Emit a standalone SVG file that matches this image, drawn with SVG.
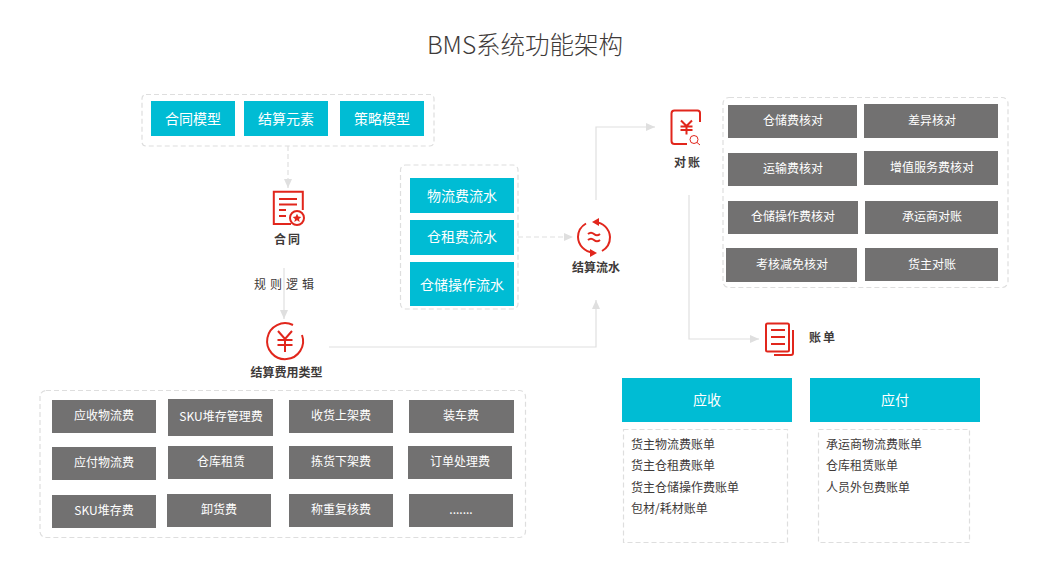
<svg xmlns="http://www.w3.org/2000/svg" width="1050" height="573" viewBox="0 0 1050 573">
<style>
text{font-family:"Noto Sans CJK SC","Liberation Sans",sans-serif;text-anchor:middle}
.dash{fill:#fff;stroke:#dedede;stroke-width:1.2;stroke-dasharray:5 3}
.blue{fill:#00bcd4}
.gray{fill:#727171}
.tb{fill:#fff;font-size:14px}
.tg{fill:#fff;font-size:12px}
.tl{fill:#3e3a39;font-size:12px;text-anchor:start}
.tn{fill:#3e3a39;font-size:12px;font-weight:700}
.con{fill:none;stroke:#dfdfdf;stroke-width:1.2}
.cd{fill:none;stroke:#dfdfdf;stroke-width:1.2;stroke-dasharray:5 3}
.ic{fill:none;stroke:#e1261c;stroke-width:2}
</style>
<defs>
<marker id="ah" viewBox="0 0 9 8" refX="9" refY="4" markerWidth="9" markerHeight="8" markerUnits="userSpaceOnUse" orient="auto"><path d="M0 0L9 4L0 8Z" fill="#dfdfdf"/></marker>
</defs>
<rect width="1050" height="573" fill="#fff"/>
<text id="title" x="525" y="54" font-size="24.500" fill="#3e3a39" font-weight="300">BMS系统功能架构</text>

<g id="connectors">
<path class="cd" d="M288 146V188" marker-end="url(#ah)"/>
<path class="con" d="M284 268V319" marker-end="url(#ah)"/>
<path class="con" d="M329 347H596V300" marker-end="url(#ah)"/>
<path class="cd" d="M518 237H573" marker-end="url(#ah)"/>
<path class="con" d="M596 200V127H655" marker-end="url(#ah)"/>
<path class="con" d="M689 195V339H759" marker-end="url(#ah)"/>
</g>

<g id="models">
<rect class="dash" x="142" y="94.500" width="292" height="51.500" rx="4"/>
<rect class="blue" x="151" y="101" width="84" height="35"/><text class="tb" x="193" y="124">合同模型</text>
<rect class="blue" x="244" y="101" width="84" height="35"/><text class="tb" x="286" y="124">结算元素</text>
<rect class="blue" x="340" y="101" width="84" height="35"/><text class="tb" x="382" y="124">策略模型</text>
</g>

<g id="contract">
<path class="ic" d="M291 224H273.800V191.800H302.800V210"/>
<path class="ic" d="M279 199H297M279 204.500H297M279 210H286M279 216H286"/>
<circle class="ic" cx="297" cy="218" r="7"/>
<path d="M297 213.800l1.300 2.800 3 .3-2.300 2 .7 3-2.700-1.600-2.700 1.600.7-3-2.300-2 3-.3z" fill="#e1261c"/>
<text class="tn" x="288" y="244" letter-spacing="2">合同</text>
</g>

<text id="rule" x="286" y="289" font-size="12" fill="#3e3a39" letter-spacing="4">规则逻辑</text>

<g id="fee-type">
<path class="ic" d="M293 325A18 18 0 1 0 302 335"/>
<path class="ic" d="M278 331L285 339L292 331M285 339V352M277.500 340H292.500M277.500 345H292.500"/>
<text class="tn" x="286.500" y="377">结算费用类型</text>
</g>

<g id="flows">
<rect class="dash" x="400.500" y="165" width="117.500" height="144" rx="5"/>
<rect class="blue" x="410" y="178" width="104" height="35"/><text class="tb" x="462" y="201">物流费流水</text>
<rect class="blue" x="410" y="220" width="104" height="35"/><text class="tb" x="462" y="242">仓租费流水</text>
<rect class="blue" x="410" y="262" width="104" height="44"/><text class="tb" x="462" y="290">仓储操作流水</text>
</g>

<g id="settle-flow">
<path class="ic" d="M595 222A16 16 0 0 1 610 237A16 16 0 0 1 602 251"/>
<path class="ic" d="M593 252.500A16 16 0 0 1 578 237A16 16 0 0 1 586 223.500"/>
<path d="M592 222L599 218V226Z" fill="#e1261c"/>
<path d="M597 253L590 249V257Z" fill="#e1261c"/>
<path class="ic" d="M588 234q3 -2.500 6 0t6 0M588 240q3 -2.500 6 0t6 0"/>
<text class="tn" x="596" y="272">结算流水</text>
</g>

<g id="reconcile">
<path class="ic" d="M700 122V113Q700 110.500 697.500 110.500H674.500Q671.500 110.500 671.500 113.500V141Q671.500 144 674.500 144H687"/>
<path class="ic" d="M681 120.500L686.500 126L692 120.500M686.500 126V134.500M680.500 126.500H692.500M680.500 130H692.500"/>
<circle cx="694" cy="139.500" r="4" fill="none" stroke="#e1261c" stroke-width="1"/>
<path d="M697 142.500L700 145" stroke="#e1261c" stroke-width="1"/>
<text class="tn" x="688" y="167" letter-spacing="2">对账</text>
</g>

<g id="checks">
<rect class="dash" x="723" y="97.500" width="285" height="190" rx="6"/>
<rect class="gray" x="728" y="105" width="129" height="33"/><text class="tg" x="793" y="125">仓储费核对</text>
<rect class="gray" x="864" y="104" width="134" height="34"/><text class="tg" x="932" y="125">差异核对</text>
<rect class="gray" x="728" y="153" width="129" height="33"/><text class="tg" x="793" y="173">运输费核对</text>
<rect class="gray" x="864" y="151" width="134" height="34"/><text class="tg" x="932" y="172">增值服务费核对</text>
<rect class="gray" x="728" y="201" width="130" height="33"/><text class="tg" x="793" y="221">仓储操作费核对</text>
<rect class="gray" x="865" y="201" width="133" height="33"/><text class="tg" x="932" y="221">承运商对账</text>
<rect class="gray" x="726" y="248" width="131" height="34"/><text class="tg" x="792" y="269">考核减免核对</text>
<rect class="gray" x="865" y="248" width="133" height="33"/><text class="tg" x="932" y="269">货主对账</text>
</g>

<g id="bill">
<rect class="ic" x="766" y="323.500" width="23" height="28" rx="1.500"/>
<path class="ic" d="M771 330H785M771 337H785M771 344H785"/>
<path class="ic" d="M793 330V353Q793 355 791 355H774"/>
<text class="tn" x="823" y="342" letter-spacing="2">账单</text>
</g>

<g id="fees">
<rect class="dash" x="40" y="390.500" width="485.500" height="147" rx="6"/>
<rect class="gray" x="52" y="400" width="104" height="33"/><text class="tg" x="104" y="420">应收物流费</text>
<rect class="gray" x="168" y="399" width="105" height="37"/><text class="tg" x="221" y="421">SKU堆存管理费</text>
<rect class="gray" x="289" y="400" width="104" height="33"/><text class="tg" x="341" y="420">收货上架费</text>
<rect class="gray" x="409" y="400" width="105" height="33"/><text class="tg" x="461" y="420">装车费</text>
<rect class="gray" x="52" y="447" width="104" height="33"/><text class="tg" x="104" y="467">应付物流费</text>
<rect class="gray" x="168" y="446" width="105" height="33"/><text class="tg" x="221" y="466">仓库租赁</text>
<rect class="gray" x="289" y="446" width="104" height="33"/><text class="tg" x="341" y="466">拣货下架费</text>
<rect class="gray" x="408" y="446" width="104" height="33"/><text class="tg" x="460" y="466">订单处理费</text>
<rect class="gray" x="52" y="495" width="104" height="33"/><text class="tg" x="104" y="515">SKU堆存费</text>
<rect class="gray" x="167" y="494" width="104" height="33"/><text class="tg" x="219" y="514">卸货费</text>
<rect class="gray" x="289" y="494" width="104" height="33"/><text class="tg" x="341" y="514">称重复核费</text>
<rect class="gray" x="409" y="494" width="104" height="33"/><text class="tg" x="461" y="514">.......</text>
</g>

<g id="receivable">
<rect class="blue" x="622" y="378" width="170" height="44"/><text class="tb" x="707" y="405">应收</text>
<rect class="dash" x="623.500" y="429.500" width="164" height="113"/>
<text class="tl" x="631" y="449">货主物流费账单</text>
<text class="tl" x="631" y="470">货主仓租费账单</text>
<text class="tl" x="631" y="492">货主仓储操作费账单</text>
<text class="tl" x="631" y="513">包材/耗材账单</text>
</g>

<g id="payable">
<rect class="blue" x="810" y="378" width="170" height="44"/><text class="tb" x="895" y="405">应付</text>
<rect class="dash" x="818.500" y="429.500" width="151" height="113"/>
<text class="tl" x="826" y="449">承运商物流费账单</text>
<text class="tl" x="826" y="470">仓库租赁账单</text>
<text class="tl" x="826" y="492">人员外包费账单</text>
</g>
</svg>
